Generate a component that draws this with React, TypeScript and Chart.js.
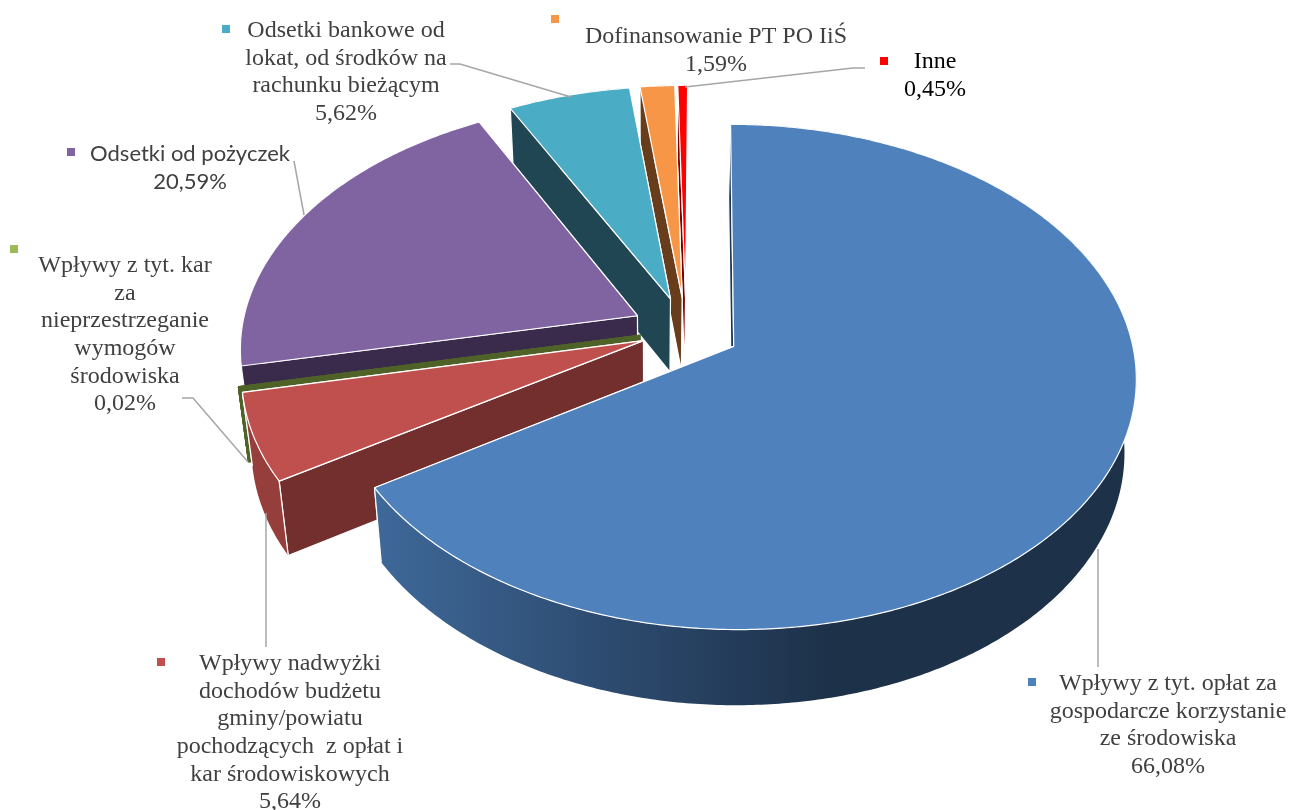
import React, { useEffect, useRef } from "react";
import { Chart, registerables } from "chart.js";

Chart.register(...registerables);

const categories = [
  "Wpływy z tyt. opłat za gospodarcze korzystanie ze środowiska",
  "Wpływy nadwyżki dochodów budżetu gminy/powiatu pochodzących z opłat i kar środowiskowych",
  "Wpływy z tyt. kar za nieprzestrzeganie wymogów środowiska",
  "Odsetki od pożyczek",
  "Odsetki bankowe od lokat, od środków na rachunku bieżącym",
  "Dofinansowanie PT PO IiŚ",
  "Inne",
];
const values = [66.08, 5.64, 0.02, 20.59, 5.62, 1.59, 0.45];
const explosions = [13.7, 11.5, 12, 13.7, 13.5, 13.5, 13.5];
const topColors = ["#4f81bd", "#c0504d", "#9bbb59", "#8064a2", "#4bacc6", "#f79646", "#ff0000"];
const wallColors = ["#1f3550", "#722f2e", "#4f6228", "#3a2a4c", "#1f4652", "#673d1b", "#800000"];
const rimColors = ["#1f3550", "#963e3c", "#4f6228", "#3a2a4c", "#1f4652", "#673d1b", "#800000"];
const paintOrder = [6, 5, 4, 3, 2, 1, 0];

type Label = { lines: string[]; x: number; y: number; key: number[]; font?: string; color?: string; keyColor: number };
const labels: Label[] = [
  { lines: ["Wpływy z tyt. opłat za", "gospodarcze korzystanie", "ze środowiska", "66,08%"], x: 1168, y: 684, key: [1032, 682], keyColor: 0 },
  { lines: ["Wpływy nadwyżki", "dochodów budżetu", "gminy/powiatu", "pochodzących  z opłat i", "kar środowiskowych", "5,64%"], x: 290, y: 664, key: [161, 662], keyColor: 1 },
  { lines: ["Wpływy z tyt. kar", "za", "nieprzestrzeganie", "wymogów", "środowiska", "0,02%"], x: 125, y: 266, key: [14, 249], keyColor: 2 },
  { lines: ["Odsetki od pożyczek", "20,59%"], x: 190, y: 154, key: [71, 152], keyColor: 3, font: "22px Lato" },
  { lines: ["Odsetki bankowe od", "lokat, od środków na", "rachunku bieżącym", "5,62%"], x: 346, y: 31, key: [226, 29], keyColor: 4 },
  { lines: ["Dofinansowanie PT PO IiŚ", "1,59%"], x: 716, y: 37, key: [555, 19], keyColor: 5 },
  { lines: ["Inne", "0,45%"], x: 935, y: 62, key: [884, 61], keyColor: 6, color: "#000000" },
];
const leaders: number[][][] = [
  [[1098, 549], [1098, 667]],
  [[266, 513], [266, 647]],
  [[182, 398], [193, 398], [248, 462]],
  [[294, 161], [304, 215]],
  [[450, 64], [460, 64], [571, 97]],
  [[865, 68], [853, 68], [685, 87]],
];

// Perspective of the pie plane
const OX = 686, OY = 330, F = 396, G = 245, K = 0.12, SKEW = -2;
// Extrusion of the pie
const VX = 650, SHRINK = 0.0244, DEPTH = 73, DEPTH_GROW = 0.008;

const project = (u: number, v: number) => {
  const w = 1 - K * v;
  return [OX + (F * u) / w + SKEW * v, OY + (G * v) / w];
};
const lower = (p: number[]) => [p[0] + (VX - p[0]) * SHRINK, p[1] + DEPTH + (p[1] - 300) * DEPTH_GROW];

const poly = (ctx: CanvasRenderingContext2D, pts: number[][]) => {
  ctx.beginPath();
  pts.forEach((p, i) => (i ? ctx.lineTo(p[0], p[1]) : ctx.moveTo(p[0], p[1])));
  ctx.closePath();
};

const pie3d = {
  id: "pie3d",
  beforeDatasetsDraw(chart: any) {
    const ctx: CanvasRenderingContext2D = chart.ctx;
    const arcs = chart.getDatasetMeta(0).data;
    ctx.save();
    ctx.lineJoin = "round";
    paintOrder.forEach((i) => {
      const arc = arcs[i];
      const { startAngle, endAngle } = arc.getProps(["startAngle", "endAngle"], true);
      const e = (arc.options.offset || 0) / 100;
      const mid = (startAngle + endAngle) / 2;
      const du = Math.cos(mid) * e, dv = Math.sin(mid) * e;
      const apex = project(du, dv);
      const n = Math.max(2, Math.ceil((endAngle - startAngle) / 0.01));
      const rim: number[][] = [];
      for (let k = 0; k <= n; k++) {
        const a = startAngle + ((endAngle - startAngle) * k) / n;
        rim.push(project(Math.cos(a) + du, Math.sin(a) + dv));
      }
      const thin = endAngle - startAngle < 0.01;
      ctx.lineWidth = thin ? 2.5 : 1.2;
      ctx.strokeStyle = thin ? wallColors[i] : "#ffffff";

      // radial walls, the one further back first
      const ends = [rim[0], rim[rim.length - 1]].sort((a, b) => a[1] - b[1]);
      ends.forEach((r) => {
        poly(ctx, [apex, r, lower(r), lower(apex)]);
        ctx.fillStyle = wallColors[i];
        ctx.fill();
        ctx.stroke();
      });

      // outer wall
      poly(ctx, [...rim, ...rim.slice().reverse().map(lower)]);
      if (i === 0) {
        const g = ctx.createLinearGradient(380, 0, 830, 0);
        g.addColorStop(0, "#3e6898");
        g.addColorStop(0.5, "#2d4b70");
        g.addColorStop(1, "#1d3149");
        ctx.fillStyle = g;
      } else {
        ctx.fillStyle = rimColors[i];
      }
      ctx.fill();
      if (thin) ctx.stroke();
      ends.forEach((r) => {
        const b = lower(r);
        ctx.beginPath();
        ctx.moveTo(r[0], r[1]);
        ctx.lineTo(b[0], b[1]);
        ctx.stroke();
      });

      // top face
      poly(ctx, [apex, ...rim]);
      ctx.fillStyle = arc.options.backgroundColor;
      ctx.fill();
      ctx.stroke();
    });
    ctx.restore();
    return false;
  },
  afterDraw(chart: any) {
    const ctx: CanvasRenderingContext2D = chart.ctx;
    ctx.save();
    ctx.strokeStyle = "#a6a6a6";
    ctx.lineWidth = 1.5;
    leaders.forEach((l) => {
      ctx.beginPath();
      l.forEach((p, i) => (i ? ctx.lineTo(p[0], p[1]) : ctx.moveTo(p[0], p[1])));
      ctx.stroke();
    });
    ctx.textAlign = "center";
    ctx.textBaseline = "middle";
    labels.forEach((lab) => {
      ctx.font = lab.font || '24px "Liberation Serif"';
      ctx.fillStyle = lab.color || "#404040";
      lab.lines.forEach((t, i) => ctx.fillText(t, lab.x, lab.y + i * 27.6));
      ctx.fillStyle = topColors[lab.keyColor];
      ctx.fillRect(lab.key[0] - 4, lab.key[1] - 4, 8, 8);
    });
    ctx.restore();
  },
};

export default function App() {
  const ref = useRef<HTMLCanvasElement>(null);
  useEffect(() => {
    document.body.style.margin = "0";
    const chart = new Chart(ref.current as HTMLCanvasElement, {
      type: "pie",
      data: {
        labels: categories,
        datasets: [{ data: values, backgroundColor: topColors, offset: explosions, borderColor: "#ffffff", borderWidth: 1 }],
      },
      options: {
        responsive: false,
        animation: false,
        plugins: { legend: { display: false }, tooltip: { enabled: false } },
      },
      plugins: [pie3d],
    } as any);
    return () => chart.destroy();
  }, []);
  return (
    <canvas
      ref={ref}
      width={1289}
      height={810}
      style={{ display: "block", position: "absolute", left: 0, top: 0 }}
    />
  );
}
